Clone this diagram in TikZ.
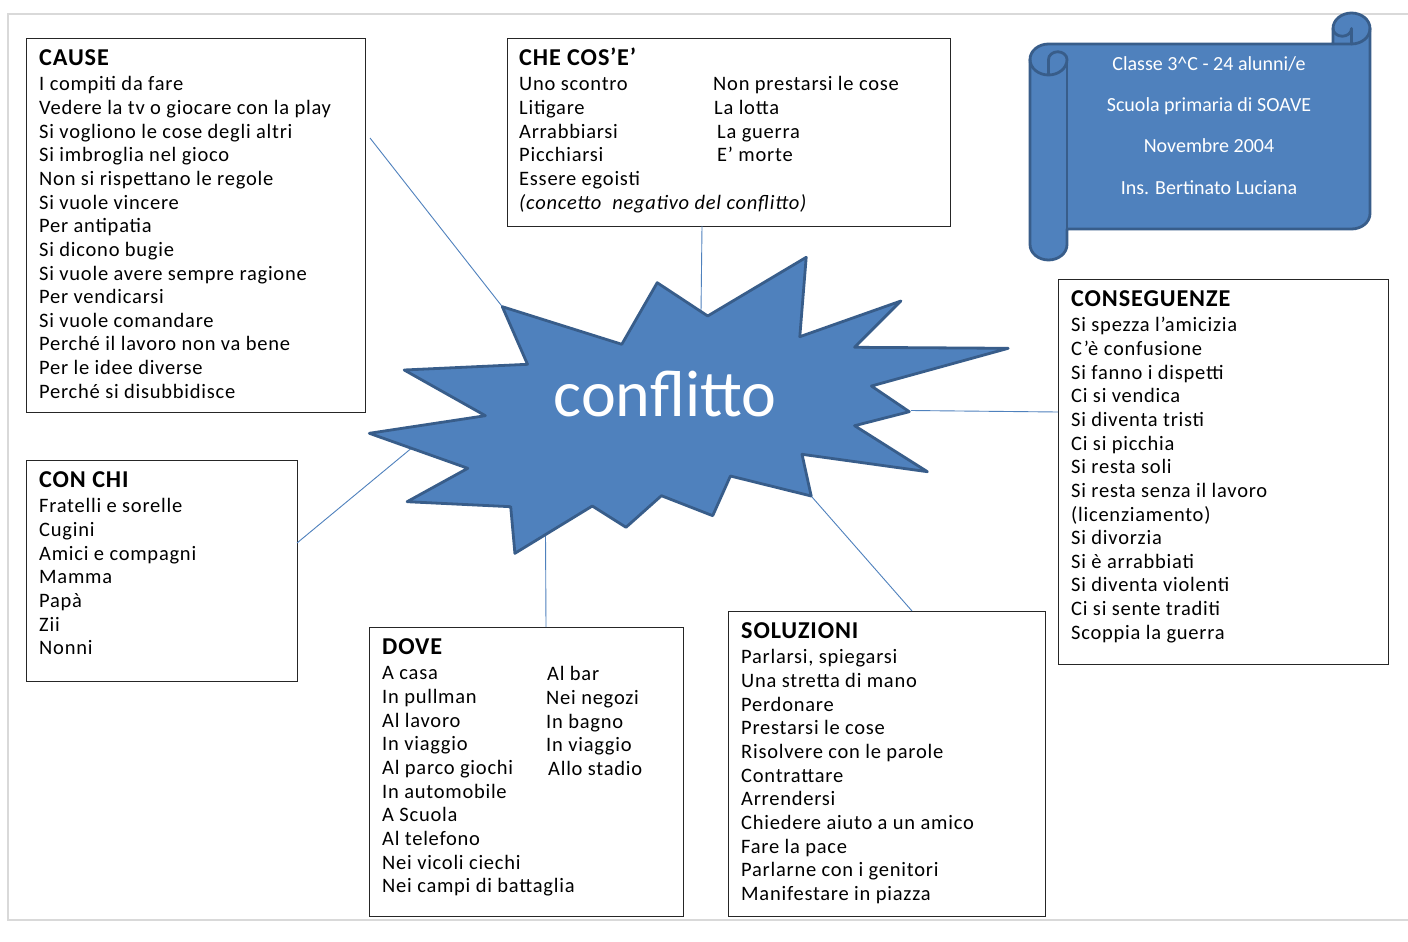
\documentclass[tikz,border=0pt]{standalone}
\usepackage{fontspec}
\setmainfont{Carlito}
\newfontfamily\bxfont{Carlito}[LetterSpace=3.7]
\definecolor{accent}{HTML}{4F81BD}
\definecolor{accentdark}{HTML}{385D8A}
\definecolor{pageline}{HTML}{D9D9D9}
\newcommand\ttl[1]{{\fontsize{24.2}{23.64}\selectfont\bfseries #1}}
\newcommand\fl{\rule{0pt}{20pt}}
\begin{document}
\begin{tikzpicture}[x=1pt,y=-1pt,
  box/.style={draw=black!85, line width=1.2pt, anchor=north west, inner sep=0pt},
  txt/.style={anchor=north west, inner sep=0pt, align=left, text=black,
    font=\bxfont\fontsize{20.5}{23.64}\selectfont},
  conn/.style={draw=accent, line width=0.9pt},
  shapestyle/.style={fill=accent, draw=accentdark, line width=2.8pt, line join=round},
  scrollline/.style={draw=accentdark, line width=2.8pt, line join=round, line cap=round},
  scrolltext/.style={text=white, anchor=base, inner sep=0pt, font=\fontsize{20}{20}\selectfont},
]
\useasboundingbox (0,0) rectangle (1408,942);
\fill[white] (0,0) rectangle (1408,942);
\draw[pageline, line width=1.5pt] (1410,14) -- (8,14) -- (8,920) -- (1410,920);

% boxes
\node[box, minimum width=339pt, minimum height=374pt] (cause) at (26,38) {};
\node[box, minimum width=443pt, minimum height=188pt] (che) at (507,38) {};
\node[box, minimum width=330pt, minimum height=385pt] (cons) at (1058,279) {};
\node[box, minimum width=271pt, minimum height=221pt] (conchi) at (26,460) {};
\node[box, minimum width=314pt, minimum height=289pt] (dove) at (369,627) {};
\node[box, minimum width=317pt, minimum height=305pt] (soluz) at (728,611) {};

% box texts
\node[txt] (causeT) at (39,45) {\fl\ttl{CAUSE}\\[2.06pt]
I compiti da fare\\
Vedere la tv o giocare con la play\\
Si vogliono le cose degli altri\\
Si imbroglia nel gioco\\
Non si rispettano le regole\\
Si vuole vincere\\
Per antipatia\\
Si dicono bugie\\
Si vuole avere sempre ragione\\
Per vendicarsi\\
Si vuole comandare\\
Perché il lavoro non va bene\\
Per le idee diverse\\
Perché si disubbidisce};

\node[txt] (cheT) at (519,45) {\fl\ttl{CHE COS’E’}\\[2.06pt]
Uno scontro\\
Litigare\\
Arrabbiarsi\\
Picchiarsi\\
Essere egoisti\\
\textit{(concetto\ \ negativo del conflitto)}};
\node[txt] (cheT2) at (713,70.7) {\fl Non prestarsi le cose\\
\hspace*{1pt}La lotta\\
\hspace*{4pt}La guerra\\
\hspace*{4pt}E’ morte};

\node[txt] (consT) at (1071,286) {\fl\ttl{CONSEGUENZE}\\[2.06pt]
Si spezza l’amicizia\\
C’è confusione\\
Si fanno i dispetti\\
Ci si vendica\\
Si diventa tristi\\
Ci si picchia\\
Si resta soli\\
Si resta senza il lavoro\\
(licenziamento)\\
Si divorzia\\
Si è arrabbiati\\
Si diventa violenti\\
Ci si sente traditi\\
Scoppia la guerra};

\node[txt] (conchiT) at (39,467) {\fl\ttl{CON CHI}\\[2.06pt]
Fratelli e sorelle\\
Cugini\\
Amici e compagni\\
Mamma\\
Papà\\
Zii\\
Nonni};

\node[txt] (doveT) at (382,634) {\fl\ttl{DOVE}\\[2.06pt]
A casa\\
In pullman\\
Al lavoro\\
In viaggio\\
Al parco giochi\\
In automobile\\
A Scuola\\
Al telefono\\
Nei vicoli ciechi\\
Nei campi di battaglia};
\node[txt] (doveT2) at (546,660.7) {\fl\hspace*{1pt}Al bar\\
Nei negozi\\
In bagno\\
In viaggio\\
\hspace*{2pt}Allo stadio};

\node[txt] (soluzT) at (741,618) {\fl\ttl{SOLUZIONI}\\[2.06pt]
Parlarsi, spiegarsi\\
Una stretta di mano\\
Perdonare\\
Prestarsi le cose\\
Risolvere con le parole\\
Contrattare\\
Arrendersi\\
Chiedere aiuto a un amico\\
Fare la pace\\
Parlarne con i genitori\\
Manifestare in piazza};

% connector end points
\coordinate (tipNW) at (502.3,306.7);
\coordinate (tipN) at (701,312);
\coordinate (tipE) at (911,410.5);
\coordinate (tipW) at (410.5,449);
\coordinate (tipS) at (545.5,534);
\coordinate (tipSE) at (812,497);
\coordinate (endCause) at (370,138);
\coordinate (endChe) at (702,226);
\coordinate (endCons) at (1058,412);
\coordinate (endConchi) at (297,543);
\coordinate (endDove) at (546,627);
\coordinate (endSoluz) at (912,611);

\draw[conn] (endCause) -- (tipNW);
\draw[conn] (endChe) -- (tipN);
\draw[conn] (endCons) -- (tipE);
\draw[conn] (endConchi) -- (tipW);
\draw[conn] (endDove) -- (tipS);
\draw[conn] (endSoluz) -- (tipSE);

% star
\draw[shapestyle] (502.3,306.7) -- (621.8,344.3) -- (657.2,282.7) -- (707.7,316) -- (806.2,257.3) -- (799.8,336.7) -- (900.9,301) -- (854.6,347.3) -- (1008.2,348.3) -- (871.4,386) -- (909.3,411.7) -- (854.6,425.7) -- (927.4,471.7) -- (802,454.3) -- (811.2,496) -- (730.4,476) -- (712.7,515.7) -- (661.4,495.7) -- (626,527.3) -- (592.3,506) -- (514.9,553.3) -- (510.7,506.7) -- (407.1,501.7) -- (467.8,468.3) -- (369.3,433.3) -- (485.4,415.7) -- (404.2,370) -- (527.5,364.3) -- cycle;
\node[text=white, anchor=base, inner sep=0pt, font=\fontsize{66}{66}\selectfont] (conflitto) at (665,416) {conflitto};

% scroll
\draw[shapestyle] (1030,59.5) arc[start angle=180,end angle=90,x radius=18.5pt,y radius=15.5pt]
  -- (1333,44) -- (1333,28.5) arc[start angle=180,end angle=0,x radius=18.5pt,y radius=15.5pt]
  -- (1370,213.5) arc[start angle=0,end angle=-90,x radius=18.5pt,y radius=15.5pt]
  -- (1067,229) -- (1067,244.5) arc[start angle=0,end angle=-180,x radius=18.5pt,y radius=15.5pt]
  -- cycle;
\draw[scrollline] (1333,44) -- (1351.5,44) arc[start angle=-90,end angle=0,x radius=18.5pt,y radius=15.5pt];
\draw[scrollline] (1351.5,44) -- (1351.5,28.5) arc[start angle=0,end angle=-180,x radius=9.25pt,y radius=7.75pt];
\draw[scrollline] (1048.5,75) -- (1048.5,59.5) arc[start angle=180,end angle=0,x radius=9.25pt,y radius=7.75pt]
  arc[start angle=0,end angle=-180,x radius=18.5pt,y radius=15.5pt];
\draw[scrollline] (1067,59.5) -- (1067,229);

\node[scrolltext] (s1) at (1209,70.7) {Classe 3\textasciicircum C - 24 alunni/e};
\node[scrolltext] (s2) at (1209,111.7) {Scuola primaria di SOAVE};
\node[scrolltext] (s3) at (1209,152.3) {Novembre 2004};
\node[scrolltext] (s4) at (1209,194) {Ins. Bertinato Luciana};
\end{tikzpicture}
\end{document}
